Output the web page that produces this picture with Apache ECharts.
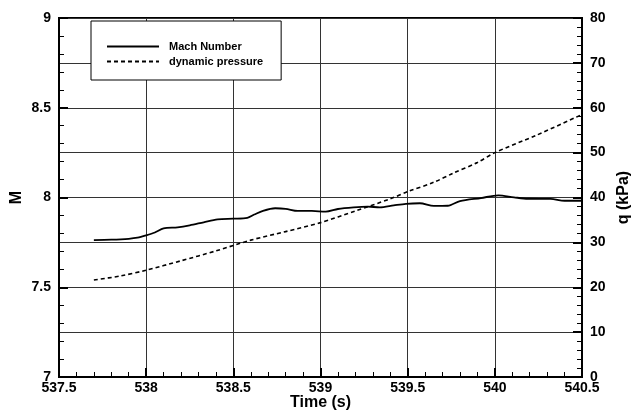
<!DOCTYPE html>
<html>
<head>
<meta charset="utf-8">
<script src="https://cdn.jsdelivr.net/npm/echarts@6/dist/echarts.min.js"></script>
<style>
  html, body { margin: 0; padding: 0; background: #fff; }
  #chart { width: 634px; height: 410px; }
</style>
</head>
<body>
<div id="chart"></div>
<script>
// Mach number vs time
const machTime = [537.70, 537.80, 537.90, 537.95, 538.00, 538.05, 538.10, 538.18, 538.25, 538.33,
  538.41, 538.50, 538.58, 538.62, 538.67, 538.74, 538.80, 538.87, 538.95, 539.03,
  539.10, 539.19, 539.27, 539.34, 539.42, 539.49, 539.57, 539.65, 539.73, 539.80,
  539.92, 540.02, 540.11, 540.19, 540.32, 540.40, 540.50]
const machValues = [7.763, 7.765, 7.770, 7.776, 7.789, 7.805, 7.828, 7.834, 7.845, 7.862,
  7.878, 7.882, 7.887, 7.905, 7.926, 7.940, 7.937, 7.925, 7.925, 7.921,
  7.936, 7.945, 7.949, 7.945, 7.956, 7.965, 7.968, 7.953, 7.954, 7.980,
  7.997, 8.012, 8.001, 7.993, 7.992, 7.982, 7.982]

// dynamic pressure (kPa) vs time
const qTime = [537.70, 537.85, 538.00, 538.20, 538.40, 538.60, 538.80, 539.00, 539.20,
  539.40, 539.50, 539.65, 539.76, 539.90, 540.00, 540.24, 540.50]
const qValues = [21.6, 22.5, 23.8, 25.9, 28.1, 30.5, 32.4, 34.4, 37.0,
  39.7, 41.3, 43.4, 45.4, 47.8, 50.0, 53.9, 58.5]

const seriesNames = ['Mach Number', 'dynamic pressure']

const pair = (xs, ys) => xs.map((x, i) => [x, ys[i]])

const font = 'Liberation Sans, Arial, sans-serif'
const axisLabel = { color: '#000', fontFamily: font, fontWeight: 'bold', fontSize: 14 }
const nameStyle = {
  color: '#000', fontFamily: font, fontWeight: 'bold', fontSize: 16,
  align: 'center', verticalAlign: 'middle'
}
const axisLine = { show: true, onZero: false, lineStyle: { color: '#000', width: 2 } }
const axisTick = { show: true, inside: true, length: 9, lineStyle: { color: '#000', width: 2 } }
const minorTick = { show: true, splitNumber: 5, length: 5, lineStyle: { color: '#000', width: 1 } }
const gridLine = { show: true, lineStyle: { color: '#333', width: 1 } }

const chart = echarts.init(document.getElementById('chart'))
chart.setOption({
  animation: false,
  backgroundColor: '#fff',
  grid: {
    left: 59, right: 52, top: 18, bottom: 33,
    containLabel: false, outerBoundsMode: 'none',
    show: true, borderColor: '#000', borderWidth: 2
  },
  legend: {
    data: seriesNames,
    orient: 'vertical',
    left: 91,
    top: 21,
    itemWidth: 52,
    itemHeight: 12,
    itemGap: 4,
    padding: [20, 18, 13, 15],
    backgroundColor: '#fff',
    borderColor: '#000',
    borderWidth: 1,
    itemStyle: { opacity: 0 },
    textStyle: { color: '#000', fontFamily: font, fontWeight: 'bold', fontSize: 11, padding: [0, 0, 0, 5] }
  },
  xAxis: {
    type: 'value',
    min: 537.5,
    max: 540.5,
    interval: 0.5,
    name: 'Time (s)',
    nameLocation: 'middle',
    nameGap: 26,
    nameMoveOverlap: false,
    nameTextStyle: nameStyle,
    axisLine,
    axisTick,
    minorTick,
    axisLabel: Object.assign({}, axisLabel, { margin: 4 }),
    splitLine: gridLine
  },
  yAxis: [
    {
      type: 'value',
      min: 7,
      max: 9,
      interval: 0.5,
      name: 'M',
      nameLocation: 'middle',
      nameRotate: 90,
      nameGap: 42,
      nameMoveOverlap: false,
      nameTextStyle: nameStyle,
      axisLine,
      axisTick,
      minorTick,
      axisLabel: Object.assign({}, axisLabel, { margin: 8 }),
      splitLine: { show: false }
    },
    {
      type: 'value',
      position: 'right',
      min: 0,
      max: 80,
      interval: 10,
      name: 'q (kPa)',
      nameLocation: 'middle',
      nameRotate: 90,
      nameGap: 42,
      nameMoveOverlap: false,
      nameTextStyle: nameStyle,
      axisLine,
      axisTick,
      minorTick,
      axisLabel: Object.assign({}, axisLabel, { margin: 8 }),
      splitLine: gridLine
    }
  ],
  series: [
    {
      name: seriesNames[0],
      type: 'line',
      yAxisIndex: 0,
      symbol: 'none',
      smooth: 0.3,
      data: pair(machTime, machValues),
      lineStyle: { color: '#000', width: 1.8 },
      itemStyle: { color: '#000' }
    },
    {
      name: seriesNames[1],
      type: 'line',
      yAxisIndex: 1,
      symbol: 'none',
      smooth: 0.3,
      data: pair(qTime, qValues),
      lineStyle: { color: '#000', width: 1.6, type: [4, 3] },
      itemStyle: { color: '#000' }
    }
  ]
})
</script>
</body>
</html>
